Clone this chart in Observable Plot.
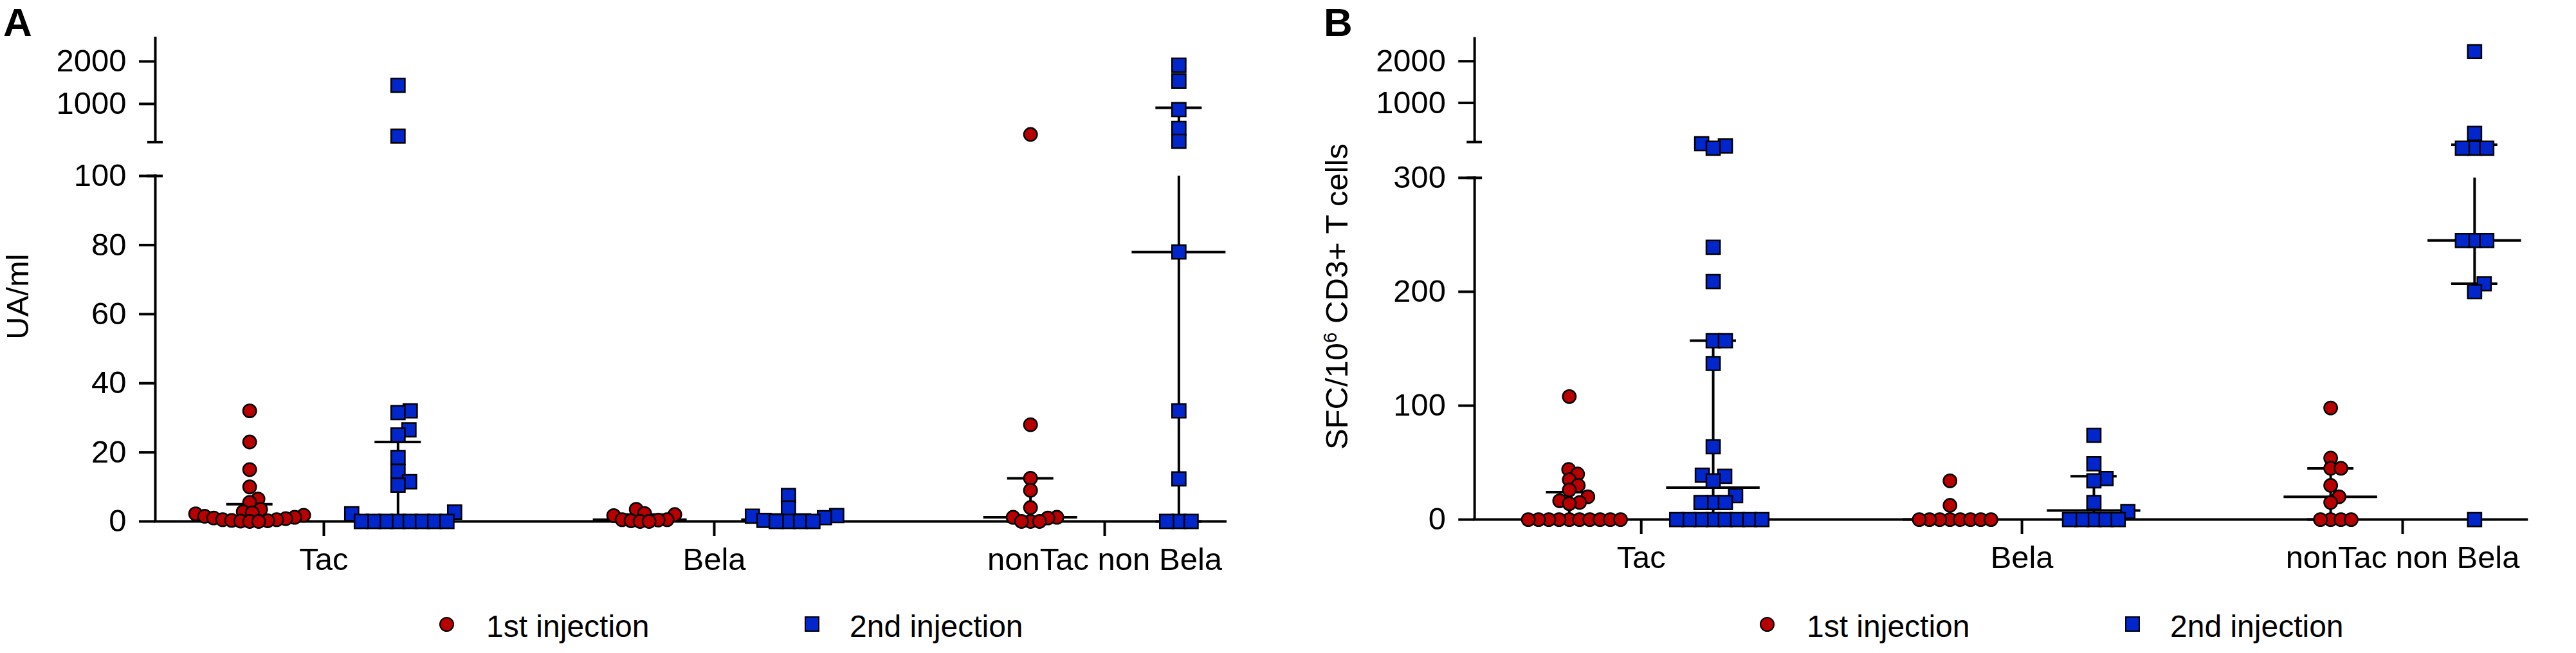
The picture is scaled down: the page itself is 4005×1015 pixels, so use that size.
<!DOCTYPE html>
<html><head><meta charset="utf-8">
<script src="https://cdn.jsdelivr.net/npm/d3@7"></script>
<script src="https://cdn.jsdelivr.net/npm/@observablehq/plot@0.6"></script>
<style>
html,body{margin:0;padding:0;background:#fff;}
#root{position:relative;width:4005px;height:1015px;overflow:hidden;font-family:"Liberation Sans",Arial,Helvetica,sans-serif;color:#000;background:#fff;}
.abs{position:absolute;white-space:nowrap;line-height:1;}
.panel{position:absolute;top:0;}
.ytitle{position:absolute;white-space:nowrap;line-height:1;font-size:49px;transform:translate(-50%,-50%) rotate(-90deg);}
.sw-c{position:absolute;width:23px;height:23px;border-radius:50%;background:#b80000;border:2.5px solid #000;box-sizing:border-box;}
.sw-s{position:absolute;width:23px;height:24px;background:#0026cc;border:2.5px solid #000;box-sizing:border-box;}
.leg{position:absolute;white-space:nowrap;line-height:1;font-size:48px;}
</style></head>
<body><div id="root"></div>
<script>
// ---------------- data ----------------
const categories = ["Tac", "Bela", "nonTac non Bela"];
const legendLabels = ["1st injection", "2nd injection"];
const colors = ["#b80000", "#0026cc"];

// Panel A : UA/ml
const aTicksLower = [0, 20, 40, 60, 80, 100];
const aTicksUpper = [1000, 2000];
const aTac1 = [32, 23, 15, 10, 6.5, 5.5, 3.5, 2.8, 2.5, 2.2, 1.8, 1.5, 1.2, 1, 0.8, 0.5, 0.5, 0.3, 0.2, 0.1, 0, 0];
const aTac2 = [1439, 242, 32, 31.5, 26.5, 25, 18.5, 14.5, 11.5, 10.5, 2.7, 2.2, 0, 0, 0, 0, 0, 0, 0, 0];
const aBela1 = [3.5, 2.3, 2, 1.7, 0.5, 0.5, 0.4, 0.2, 0, 0];
const aBela2 = [7.5, 3.9, 1.7, 1.5, 1.1, 0.3, 0, 0, 0, 0];
const aNon1 = [280, 28, 12.5, 9, 4, 1.2, 1.2, 1, 0, 0, 0];
const aNon2 = [1909, 1538, 864, 424, 121, 78, 32, 12.3, 0, 0, 0];
const aMedian = [1, 0.5, 0.5, 0.5, 1.2, 78];
const aQ1 = [0, 0, 0, 0, 0, 0];
const aQ3 = [5, 23, 2, 2, 12.5, 910];

// Panel B : SFC/10^6 CD3+ T cells
const bTicksLower = [0, 100, 200, 300];
const bTicksUpper = [1000, 2000];
const bTac1 = [108, 44, 40, 35, 30, 26, 20, 16.5, 15, 14, 0, 0, 0, 0, 0, 0, 0, 0, 0, 0];
const bTac2 = [330, 328, 326, 239, 209, 157, 157, 137, 64, 39, 38, 34, 21, 15, 15, 15, 0, 0, 0, 0, 0, 0, 0, 0];
const bBela1 = [34, 12.5, 0, 0, 0, 0, 0, 0, 0, 0];
const bBela2 = [74, 49, 36, 34, 15, 7, 0, 0, 0, 0, 0];
const bNon1 = [98, 54, 45, 45, 30, 20, 15, 0, 0, 0, 0];
const bNon2 = [2230, 339, 326, 326, 326, 245, 245, 245, 207, 200, 0];
const bMedian = [0, 28, 0, 8, 20, 245];
const bQ1 = [0, 0, 0, 0, 0, 207];
const bQ3 = [24, 157, 0, 38, 45, 329];

// ---------------- helpers ----------------
function makeT(split, lowerScale, upperRef, upperSlope) {
  // broken axis: lower linear segment, upper linear segment (heights in px above the baseline)
  return v => v <= split ? v * lowerScale : upperRef + (v - 1000) * upperSlope;
}

function swarm(values, T, minD) {
  const order = values.map((v, i) => i).sort((i, j) => values[i] - values[j]);
  const placed = [];
  const off = new Array(values.length).fill(0);
  for (const i of order) {
    const y = T(values[i]);
    let chosen = 0;
    for (let k = 0; k < 2000; k++) {
      const c = k === 0 ? 0 : (k % 2 ? (k + 1) / 2 : -k / 2);
      let ok = true;
      for (const p of placed) {
        const dx = p.x - c, dy = p.y - y;
        if (dx * dx + dy * dy < minD * minD) { ok = false; break; }
      }
      if (ok) { chosen = c; break; }
    }
    placed.push({x: chosen, y});
    off[i] = chosen;
  }
  return off;
}

function panel(cfg) {
  const W = cfg.width, H = 910, mB = 100, mT = 0;
  const ppu = (W - cfg.marginLeft - cfg.marginRight) / (cfg.xDomain[1] - cfg.xDomain[0]);
  const T = cfg.T;
  const pts = [];
  const bars = [];
  cfg.groups.forEach((g, gi) => {
    const cat = Math.floor(gi / 2), inj = gi % 2;
    const center = cat + (inj ? 1 : -1) * cfg.subOffset;
    const minD = cfg.minD[inj];
    const offs = swarm(g, T, minD);
    g.forEach((v, i) => pts.push({v, t: T(v), x: center + offs[i] / ppu, inj}));
    bars.push({center, med: cfg.median[gi], q1: cfg.q1[gi], q3: cfg.q3[gi]});
  });
  const ticks = cfg.ticksLower.concat(cfg.ticksUpper);
  const ticksT = ticks.map(T);
  const labelMap = new Map(ticksT.map((t, i) => [t, String(ticks[i])]));
  const x0 = cfg.xDomain[0];
  const caps = [];
  bars.forEach(b => { caps.push({center: b.center, y: b.q1}); caps.push({center: b.center, y: b.q3}); });
  const SW = 4;
  return Plot.plot({
    width: W, height: H,
    marginLeft: cfg.marginLeft, marginRight: cfg.marginRight, marginTop: mT, marginBottom: mB,
    style: {fontFamily: '"Liberation Sans", Arial, Helvetica, sans-serif', fontSize: "49px", color: "#000", background: "transparent", overflow: "visible"},
    x: {domain: cfg.xDomain, axis: null},
    y: {domain: [0, H - mB - mT], axis: null},
    marks: [
      // y axis lines (broken)
      Plot.ruleX([x0], {y1: 0, y2: T(cfg.lowerMax), stroke: "#000", strokeWidth: SW, strokeLinecap: "square"}),
      Plot.ruleX([x0], {y1: cfg.upperBottom, y2: cfg.upperTop, stroke: "#000", strokeWidth: SW}),
      Plot.ruleY([T(cfg.lowerMax), cfg.upperBottom], {x1: x0 - 12 / ppu, x2: x0 + 12 / ppu, stroke: "#000", strokeWidth: SW}),
      Plot.axisY(ticksT, {anchor: "left", tickSize: 25, tickPadding: 20, strokeWidth: SW, fontSize: 49, label: null,
        tickFormat: d => labelMap.get(d)}),
      // x axis
      Plot.ruleY([0], {stroke: "#000", strokeWidth: SW, strokeLinecap: "square"}),
      Plot.axisX(d3.range(categories.length), {anchor: "bottom", tickSize: 23, tickPadding: 18, strokeWidth: SW, fontSize: 49, label: null,
        tickFormat: i => categories[i]}),
      // median and interquartile range
      Plot.ruleX(bars, {x: "center", y1: d => T(d.q1), y2: d => T(Math.min(d.q3, cfg.lowerMax)), stroke: "#000", strokeWidth: SW}),
      Plot.ruleX(bars.filter(d => d.q3 > cfg.split), {x: "center", y1: cfg.upperBottom, y2: d => T(d.q3), stroke: "#000", strokeWidth: SW}),
      Plot.ruleY(bars, {y: d => T(d.med), x1: d => d.center - 73 / ppu, x2: d => d.center + 73 / ppu, stroke: "#000", strokeWidth: SW}),
      Plot.ruleY(caps, {y: d => T(d.y), x1: d => d.center - 36 / ppu, x2: d => d.center + 36 / ppu, stroke: "#000", strokeWidth: SW}),
      // points
      Plot.dot(pts.filter(d => d.inj === 0), {x: "x", y: "t", r: 10.2, fill: colors[0], stroke: "#000", strokeWidth: 2.5}),
      Plot.dot(pts.filter(d => d.inj === 1), {x: "x", y: "t", symbol: "square", r: 12, fill: colors[1], stroke: "#000", strokeWidth: 2.5})
    ]
  });
}

// ---------------- build ----------------
const root = document.getElementById("root");

const TA = makeT(100, 5.37, 649, 0.066);
const TB = makeT(500, 1.777, 650, 0.065);

const panels = [
  {left: 0, label: "A", labelLeft: 5, title: "UA/ml", titleX: 27, legendX: 0,
   cfg: {width: 1960, marginLeft: 241, marginRight: 55, xDomain: [-0.4316, 2.3097], subOffset: 0.19, T: TA,
         split: 100, lowerMax: 100, upperBottom: 589.6, upperTop: 753, minD: [14, 18.5],
         groups: [aTac1, aTac2, aBela1, aBela2, aNon1, aNon2], median: aMedian, q1: aQ1, q3: aQ3,
         ticksLower: aTicksLower, ticksUpper: aTicksUpper}},
  {left: 2052, label: "B", labelLeft: 2058, title: "SFC/10<sup style=\"font-size:0.6em;vertical-align:0.55em\">6</sup> CD3+ T cells", titleX: 2078, legendX: 2053,
   cfg: {width: 1960, marginLeft: 241, marginRight: 77, xDomain: [-0.4377, 2.3266], subOffset: 0.189, T: TB,
         split: 500, lowerMax: 300, upperBottom: 589, upperTop: 752, minD: [15.5, 19],
         groups: [bTac1, bTac2, bBela1, bBela2, bNon1, bNon2], median: bMedian, q1: bQ1, q3: bQ3,
         ticksLower: bTicksLower, ticksUpper: bTicksUpper}}
];

for (const p of panels) {
  const wrap = document.createElement("div");
  wrap.className = "panel";
  wrap.style.left = p.left + "px";
  wrap.appendChild(panel(p.cfg));
  root.appendChild(wrap);

  const lab = document.createElement("div");
  lab.className = "abs";
  lab.style.cssText = `left:${p.labelLeft}px;top:4px;font-size:62px;font-weight:bold;`;
  lab.textContent = p.label;
  root.appendChild(lab);

  const t = document.createElement("div");
  t.className = "ytitle";
  t.style.left = p.titleX + "px";
  t.style.top = "461px";
  t.innerHTML = p.title;
  root.appendChild(t);

  // legend
  const c = document.createElement("div");
  c.className = "sw-c";
  c.style.left = (683 + p.legendX) + "px"; c.style.top = "959px";
  root.appendChild(c);
  const l1 = document.createElement("div");
  l1.className = "leg"; l1.style.left = (756 + p.legendX) + "px"; l1.style.top = "950px";
  l1.textContent = legendLabels[0];
  root.appendChild(l1);
  const s = document.createElement("div");
  s.className = "sw-s";
  s.style.left = (1251 + p.legendX) + "px"; s.style.top = "958px";
  root.appendChild(s);
  const l2 = document.createElement("div");
  l2.className = "leg"; l2.style.left = (1321 + p.legendX) + "px"; l2.style.top = "950px";
  l2.textContent = legendLabels[1];
  root.appendChild(l2);
}
</script>
</body></html>
